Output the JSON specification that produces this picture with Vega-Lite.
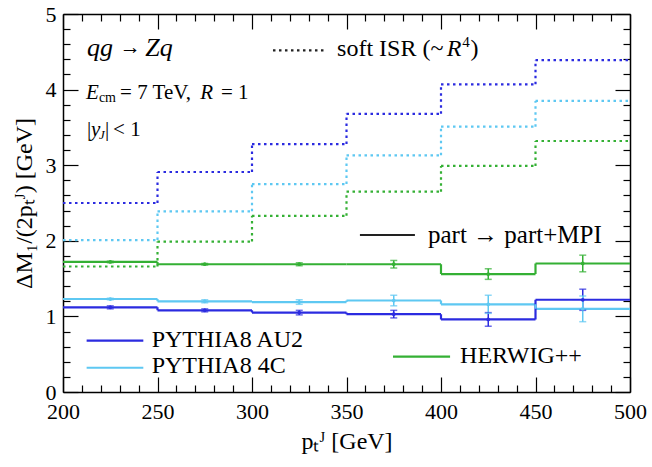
{
  "$schema": "https://vega.github.io/schema/vega-lite/v6.json",
  "width": 567,
  "height": 378,
  "autosize": "none",
  "padding": {"left": 63, "top": 14, "right": 22, "bottom": 75},
  "background": "white",
  "config": {
    "view": {"stroke": null},
    "axis": {
      "labelFont": "Liberation Serif",
      "titleFont": "Liberation Serif",
      "labelColor": "black",
      "titleColor": "black",
      "domainColor": "black",
      "tickColor": "black",
      "grid": false,
      "labelFlush": false,
      "labelOverlap": false
    }
  },
  "datasets": {
    "bins": [
      {"model": "AU2", "kind": "soft", "lo": 200, "hi": 250, "y": 2.50, "prev": null},
      {"model": "AU2", "kind": "soft", "lo": 250, "hi": 300, "y": 2.91, "prev": 2.50},
      {"model": "AU2", "kind": "soft", "lo": 300, "hi": 350, "y": 3.28, "prev": 2.91},
      {"model": "AU2", "kind": "soft", "lo": 350, "hi": 400, "y": 3.68, "prev": 3.28},
      {"model": "AU2", "kind": "soft", "lo": 400, "hi": 450, "y": 4.07, "prev": 3.68},
      {"model": "AU2", "kind": "soft", "lo": 450, "hi": 500, "y": 4.39, "prev": 4.07},
      {"model": "4C", "kind": "soft", "lo": 200, "hi": 250, "y": 2.01, "prev": null},
      {"model": "4C", "kind": "soft", "lo": 250, "hi": 300, "y": 2.39, "prev": 2.01},
      {"model": "4C", "kind": "soft", "lo": 300, "hi": 350, "y": 2.75, "prev": 2.39},
      {"model": "4C", "kind": "soft", "lo": 350, "hi": 400, "y": 3.13, "prev": 2.75},
      {"model": "4C", "kind": "soft", "lo": 400, "hi": 450, "y": 3.51, "prev": 3.13},
      {"model": "4C", "kind": "soft", "lo": 450, "hi": 500, "y": 3.85, "prev": 3.51},
      {"model": "HW", "kind": "soft", "lo": 200, "hi": 250, "y": 1.66, "prev": null},
      {"model": "HW", "kind": "soft", "lo": 250, "hi": 300, "y": 1.99, "prev": 1.66},
      {"model": "HW", "kind": "soft", "lo": 300, "hi": 350, "y": 2.33, "prev": 1.99},
      {"model": "HW", "kind": "soft", "lo": 350, "hi": 400, "y": 2.65, "prev": 2.33},
      {"model": "HW", "kind": "soft", "lo": 400, "hi": 450, "y": 2.99, "prev": 2.65},
      {"model": "HW", "kind": "soft", "lo": 450, "hi": 500, "y": 3.32, "prev": 2.99},
      {"model": "AU2", "kind": "part", "lo": 200, "hi": 250, "y": 1.12, "prev": null},
      {"model": "AU2", "kind": "part", "lo": 250, "hi": 300, "y": 1.08, "prev": 1.12},
      {"model": "AU2", "kind": "part", "lo": 300, "hi": 350, "y": 1.05, "prev": 1.08},
      {"model": "AU2", "kind": "part", "lo": 350, "hi": 400, "y": 1.03, "prev": 1.05},
      {"model": "AU2", "kind": "part", "lo": 400, "hi": 450, "y": 0.96, "prev": 1.03},
      {"model": "AU2", "kind": "part", "lo": 450, "hi": 500, "y": 1.22, "prev": 0.96},
      {"model": "4C", "kind": "part", "lo": 200, "hi": 250, "y": 1.23, "prev": null},
      {"model": "4C", "kind": "part", "lo": 250, "hi": 300, "y": 1.20, "prev": 1.23},
      {"model": "4C", "kind": "part", "lo": 300, "hi": 350, "y": 1.19, "prev": 1.20},
      {"model": "4C", "kind": "part", "lo": 350, "hi": 400, "y": 1.21, "prev": 1.19},
      {"model": "4C", "kind": "part", "lo": 400, "hi": 450, "y": 1.16, "prev": 1.21},
      {"model": "4C", "kind": "part", "lo": 450, "hi": 500, "y": 1.10, "prev": 1.16},
      {"model": "HW", "kind": "part", "lo": 200, "hi": 250, "y": 1.72, "prev": null},
      {"model": "HW", "kind": "part", "lo": 250, "hi": 300, "y": 1.69, "prev": 1.72},
      {"model": "HW", "kind": "part", "lo": 300, "hi": 350, "y": 1.69, "prev": 1.69},
      {"model": "HW", "kind": "part", "lo": 350, "hi": 400, "y": 1.69, "prev": 1.69},
      {"model": "HW", "kind": "part", "lo": 400, "hi": 450, "y": 1.56, "prev": 1.69},
      {"model": "HW", "kind": "part", "lo": 450, "hi": 500, "y": 1.70, "prev": 1.56}
    ],
    "errs": [
      {"model": "AU2", "c": 225, "v": 1.12, "lo": 1.10, "hi": 1.14},
      {"model": "AU2", "c": 275, "v": 1.08, "lo": 1.06, "hi": 1.10},
      {"model": "AU2", "c": 325, "v": 1.05, "lo": 1.02, "hi": 1.08},
      {"model": "AU2", "c": 375, "v": 1.03, "lo": 0.98, "hi": 1.08},
      {"model": "AU2", "c": 425, "v": 0.96, "lo": 0.87, "hi": 1.05},
      {"model": "AU2", "c": 475, "v": 1.22, "lo": 1.08, "hi": 1.36},
      {"model": "4C", "c": 225, "v": 1.23, "lo": 1.22, "hi": 1.24},
      {"model": "4C", "c": 275, "v": 1.20, "lo": 1.18, "hi": 1.22},
      {"model": "4C", "c": 325, "v": 1.19, "lo": 1.16, "hi": 1.22},
      {"model": "4C", "c": 375, "v": 1.21, "lo": 1.14, "hi": 1.28},
      {"model": "4C", "c": 425, "v": 1.16, "lo": 1.04, "hi": 1.28},
      {"model": "4C", "c": 475, "v": 1.10, "lo": 0.93, "hi": 1.27},
      {"model": "HW", "c": 225, "v": 1.72, "lo": 1.71, "hi": 1.73},
      {"model": "HW", "c": 275, "v": 1.69, "lo": 1.68, "hi": 1.70},
      {"model": "HW", "c": 325, "v": 1.69, "lo": 1.67, "hi": 1.71},
      {"model": "HW", "c": 375, "v": 1.69, "lo": 1.64, "hi": 1.74},
      {"model": "HW", "c": 425, "v": 1.56, "lo": 1.49, "hi": 1.63},
      {"model": "HW", "c": 475, "v": 1.70, "lo": 1.59, "hi": 1.81}
    ],
    "keys": [
      {"model": "none", "kind": "soft", "x1": 311.1, "x2": 339.2, "y": 4.52},
      {"model": "none", "kind": "part", "x1": 357.1, "x2": 386.2, "y": 2.077},
      {"model": "AU2", "kind": "part", "x1": 212.5, "x2": 242.5, "y": 0.679},
      {"model": "4C", "kind": "part", "x1": 212.5, "x2": 242.5, "y": 0.321},
      {"model": "HW", "kind": "part", "x1": 374.6, "x2": 404.8, "y": 0.467}
    ],
    "notes": [
      {"role": "title", "text": "qg", "x": 212.7, "y": 4.44},
      {"role": "reg", "text": "→", "x": 230.0, "y": 4.47},
      {"role": "title", "text": "Zq", "x": 243.5, "y": 4.44},
      {"role": "it", "text": "E", "x": 212.2, "y": 3.875},
      {"role": "sub", "text": "cm", "x": 219.0, "y": 3.836},
      {"role": "reg", "text": "= 7 TeV,", "x": 230.2, "y": 3.875},
      {"role": "it", "text": "R", "x": 272.6, "y": 3.875},
      {"role": "reg", "text": "= 1", "x": 283.6, "y": 3.875},
      {"role": "reg", "text": "|", "x": 212.7, "y": 3.386},
      {"role": "it", "text": "y", "x": 214.8, "y": 3.386},
      {"role": "subit", "text": "J", "x": 219.0, "y": 3.347},
      {"role": "reg", "text": "|", "x": 222.2, "y": 3.386},
      {"role": "reg", "text": "< 1", "x": 226.5, "y": 3.386},
      {"role": "key", "text": "soft ISR (~", "x": 345.0, "y": 4.44},
      {"role": "keyit", "text": "R", "x": 403.0, "y": 4.44},
      {"role": "keysup", "text": "4", "x": 411.2, "y": 4.56},
      {"role": "key", "text": ")", "x": 415.6, "y": 4.44},
      {"role": "keyL", "text": "part → part+MPI", "x": 393.1, "y": 1.967},
      {"role": "key", "text": "PYTHIA8 AU2", "x": 246.9, "y": 0.599},
      {"role": "key", "text": "PYTHIA8 4C", "x": 246.9, "y": 0.247},
      {"role": "key", "text": "HERWIG++", "x": 410.1, "y": 0.38}
    ]
  },
  "layer": [
    {
      "data": {"name": "bins"},
      "mark": {"type": "rule", "strokeWidth": 2.2, "strokeCap": "butt"},
      "encoding": {
        "x": {"field": "lo", "type": "quantitative", "scale": {"domain": [200, 500], "nice": false},
          "axis": {"orient": "bottom", "values": [200, 250, 300, 350, 400, 450, 500], "ticks": false, "domainWidth": 1.5, "labelFont": "Liberation Serif", "labelFontSize": 22, "labelPadding": 9, "title": "pₜᴶ   [GeV]", "titleFont": "Liberation Serif", "titleFontSize": 24, "titleFontWeight": "normal", "titlePadding": 7}},
        "x2": {"field": "hi"},
        "y": {"field": "y", "type": "quantitative", "scale": {"domain": [0, 5], "nice": false},
          "axis": {"orient": "left", "values": [0, 1, 2, 3, 4, 5], "ticks": false, "domainWidth": 1.5, "labelFont": "Liberation Serif", "labelFontSize": 22, "labelPadding": 7, "title": "ΔM₁/(2pₜᴶ)   [GeV]", "titleFont": "Liberation Serif", "titleFontSize": 24, "titleFontWeight": "normal", "titlePadding": 9}},
        "color": {"field": "model", "type": "nominal", "scale": {"domain": ["AU2", "4C", "HW", "none"], "range": ["#2b2be0", "#5ec8f2", "#34b034", "#222222"]}, "legend": null},
        "strokeDash": {"field": "kind", "type": "nominal", "scale": {"domain": ["soft", "part"], "range": [[2.5, 3.5], [1, 0]]}, "legend": null}
      }
    },
    {
      "data": {"name": "bins"},
      "transform": [{"filter": "datum.prev != null"}],
      "mark": {"type": "rule", "strokeWidth": 2.2, "strokeCap": "butt"},
      "encoding": {
        "x": {"field": "lo", "type": "quantitative", "scale": {"domain": [200, 500], "nice": false},
          "axis": {"orient": "top", "offset": -378, "values": [200, 250, 300, 350, 400, 450, 500], "tickSize": 15, "tickWidth": 1.2, "domain": false, "labels": false, "title": null}},
        "y": {"field": "prev", "type": "quantitative", "scale": {"domain": [0, 5], "nice": false},
          "axis": {"orient": "right", "offset": -567, "values": [0, 1, 2, 3, 4, 5], "tickSize": 15, "tickWidth": 1.2, "domain": false, "labels": false, "title": null}},
        "y2": {"field": "y"},
        "color": {"field": "model", "type": "nominal", "scale": {"domain": ["AU2", "4C", "HW", "none"], "range": ["#2b2be0", "#5ec8f2", "#34b034", "#222222"]}, "legend": null},
        "strokeDash": {"field": "kind", "type": "nominal", "scale": {"domain": ["soft", "part"], "range": [[2.5, 3.5], [1, 0]]}, "legend": null}
      }
    },
    {
      "data": {"name": "errs"},
      "mark": {"type": "rule", "strokeWidth": 1.5},
      "encoding": {
        "x": {"field": "c", "type": "quantitative", "scale": {"domain": [200, 500], "nice": false},
          "axis": {"orient": "top", "offset": -378, "values": [210, 220, 230, 240, 260, 270, 280, 290, 310, 320, 330, 340, 360, 370, 380, 390, 410, 420, 430, 440, 460, 470, 480, 490], "tickSize": 7, "tickWidth": 1.2, "domain": false, "labels": false, "title": null}},
        "y": {"field": "lo", "type": "quantitative", "scale": {"domain": [0, 5], "nice": false},
          "axis": {"orient": "right", "offset": -567, "values": [0.2, 0.4, 0.6, 0.8, 1.2, 1.4, 1.6, 1.8, 2.2, 2.4, 2.6, 2.8, 3.2, 3.4, 3.6, 3.8, 4.2, 4.4, 4.6, 4.8], "tickSize": 7, "tickWidth": 1.2, "domain": false, "labels": false, "title": null}},
        "y2": {"field": "hi"},
        "color": {"field": "model", "type": "nominal", "scale": {"domain": ["AU2", "4C", "HW", "none"], "range": ["#2b2be0", "#5ec8f2", "#34b034", "#222222"]}, "legend": null}
      }
    },
    {
      "data": {"name": "errs"},
      "transform": [{"fold": ["lo", "hi"], "as": ["end", "val"]}],
      "mark": {"type": "tick", "orient": "horizontal", "size": 7, "thickness": 1.5},
      "encoding": {
        "x": {"field": "c", "type": "quantitative", "scale": {"domain": [200, 500], "nice": false},
          "axis": {"orient": "bottom", "offset": -378, "values": [200, 250, 300, 350, 400, 450, 500], "tickSize": 15, "tickWidth": 1.2, "domainWidth": 1.5, "labels": false, "title": null}},
        "y": {"field": "val", "type": "quantitative", "scale": {"domain": [0, 5], "nice": false},
          "axis": {"orient": "left", "offset": -567, "values": [0, 1, 2, 3, 4, 5], "tickSize": 15, "tickWidth": 1.2, "domainWidth": 1.5, "labels": false, "title": null}},
        "color": {"field": "model", "type": "nominal", "scale": {"domain": ["AU2", "4C", "HW", "none"], "range": ["#2b2be0", "#5ec8f2", "#34b034", "#222222"]}, "legend": null}
      }
    },
    {
      "data": {"name": "errs"},
      "mark": {"type": "point", "filled": true, "size": 14, "opacity": 1},
      "encoding": {
        "x": {"field": "c", "type": "quantitative", "scale": {"domain": [200, 500], "nice": false},
          "axis": {"orient": "bottom", "offset": -378, "values": [210, 220, 230, 240, 260, 270, 280, 290, 310, 320, 330, 340, 360, 370, 380, 390, 410, 420, 430, 440, 460, 470, 480, 490], "tickSize": 7, "tickWidth": 1.2, "domain": false, "labels": false, "title": null}},
        "y": {"field": "v", "type": "quantitative", "scale": {"domain": [0, 5], "nice": false},
          "axis": {"orient": "left", "offset": -567, "values": [0.2, 0.4, 0.6, 0.8, 1.2, 1.4, 1.6, 1.8, 2.2, 2.4, 2.6, 2.8, 3.2, 3.4, 3.6, 3.8, 4.2, 4.4, 4.6, 4.8], "tickSize": 7, "tickWidth": 1.2, "domain": false, "labels": false, "title": null}},
        "color": {"field": "model", "type": "nominal", "scale": {"domain": ["AU2", "4C", "HW", "none"], "range": ["#2b2be0", "#5ec8f2", "#34b034", "#222222"]}, "legend": null}
      }
    },
    {
      "data": {"name": "keys"},
      "mark": {"type": "rule", "strokeWidth": 2.2, "strokeCap": "butt"},
      "encoding": {
        "x": {"field": "x1", "type": "quantitative", "scale": {"domain": [200, 500], "nice": false}, "axis": null},
        "x2": {"field": "x2"},
        "y": {"field": "y", "type": "quantitative", "scale": {"domain": [0, 5], "nice": false}, "axis": null},
        "color": {"field": "model", "type": "nominal", "scale": {"domain": ["AU2", "4C", "HW", "none"], "range": ["#2b2be0", "#5ec8f2", "#34b034", "#222222"]}, "legend": null},
        "strokeDash": {"field": "kind", "type": "nominal", "scale": {"domain": ["soft", "part"], "range": [[2.5, 3.5], [1, 0]]}, "legend": null}
      }
    },
    {
      "data": {"name": "notes"},
      "transform": [{"filter": "datum.role == 'title'"}],
      "mark": {"type": "text", "align": "left", "baseline": "alphabetic", "font": "Liberation Serif", "fontStyle": "italic", "fontSize": 26, "color": "black"},
      "encoding": {
        "x": {"field": "x", "type": "quantitative", "scale": {"domain": [200, 500], "nice": false}, "axis": null},
        "y": {"field": "y", "type": "quantitative", "scale": {"domain": [0, 5], "nice": false}, "axis": null},
        "text": {"field": "text"}
      }
    },
    {
      "data": {"name": "notes"},
      "transform": [{"filter": "datum.role == 'it'"}],
      "mark": {"type": "text", "align": "left", "baseline": "alphabetic", "font": "Liberation Serif", "fontStyle": "italic", "fontSize": 21, "color": "black"},
      "encoding": {
        "x": {"field": "x", "type": "quantitative", "scale": {"domain": [200, 500], "nice": false}, "axis": null},
        "y": {"field": "y", "type": "quantitative", "scale": {"domain": [0, 5], "nice": false}, "axis": null},
        "text": {"field": "text"}
      }
    },
    {
      "data": {"name": "notes"},
      "transform": [{"filter": "datum.role == 'reg'"}],
      "mark": {"type": "text", "align": "left", "baseline": "alphabetic", "font": "Liberation Serif", "fontSize": 21, "color": "black"},
      "encoding": {
        "x": {"field": "x", "type": "quantitative", "scale": {"domain": [200, 500], "nice": false}, "axis": null},
        "y": {"field": "y", "type": "quantitative", "scale": {"domain": [0, 5], "nice": false}, "axis": null},
        "text": {"field": "text"}
      }
    },
    {
      "data": {"name": "notes"},
      "transform": [{"filter": "datum.role == 'sub'"}],
      "mark": {"type": "text", "align": "left", "baseline": "alphabetic", "font": "Liberation Serif", "fontSize": 14, "color": "black"},
      "encoding": {
        "x": {"field": "x", "type": "quantitative", "scale": {"domain": [200, 500], "nice": false}, "axis": null},
        "y": {"field": "y", "type": "quantitative", "scale": {"domain": [0, 5], "nice": false}, "axis": null},
        "text": {"field": "text"}
      }
    },
    {
      "data": {"name": "notes"},
      "transform": [{"filter": "datum.role == 'subit'"}],
      "mark": {"type": "text", "align": "left", "baseline": "alphabetic", "font": "Liberation Serif", "fontStyle": "italic", "fontSize": 13, "color": "black"},
      "encoding": {
        "x": {"field": "x", "type": "quantitative", "scale": {"domain": [200, 500], "nice": false}, "axis": null},
        "y": {"field": "y", "type": "quantitative", "scale": {"domain": [0, 5], "nice": false}, "axis": null},
        "text": {"field": "text"}
      }
    },
    {
      "data": {"name": "notes"},
      "transform": [{"filter": "datum.role == 'key'"}],
      "mark": {"type": "text", "align": "left", "baseline": "alphabetic", "font": "Liberation Serif", "fontSize": 24, "color": "black"},
      "encoding": {
        "x": {"field": "x", "type": "quantitative", "scale": {"domain": [200, 500], "nice": false}, "axis": null},
        "y": {"field": "y", "type": "quantitative", "scale": {"domain": [0, 5], "nice": false}, "axis": null},
        "text": {"field": "text"}
      }
    },
    {
      "data": {"name": "notes"},
      "transform": [{"filter": "datum.role == 'keyL'"}],
      "mark": {"type": "text", "align": "left", "baseline": "alphabetic", "font": "Liberation Serif", "fontSize": 25, "color": "black"},
      "encoding": {
        "x": {"field": "x", "type": "quantitative", "scale": {"domain": [200, 500], "nice": false}, "axis": null},
        "y": {"field": "y", "type": "quantitative", "scale": {"domain": [0, 5], "nice": false}, "axis": null},
        "text": {"field": "text"}
      }
    },
    {
      "data": {"name": "notes"},
      "transform": [{"filter": "datum.role == 'keyit'"}],
      "mark": {"type": "text", "align": "left", "baseline": "alphabetic", "font": "Liberation Serif", "fontStyle": "italic", "fontSize": 24, "color": "black"},
      "encoding": {
        "x": {"field": "x", "type": "quantitative", "scale": {"domain": [200, 500], "nice": false}, "axis": null},
        "y": {"field": "y", "type": "quantitative", "scale": {"domain": [0, 5], "nice": false}, "axis": null},
        "text": {"field": "text"}
      }
    },
    {
      "data": {"name": "notes"},
      "transform": [{"filter": "datum.role == 'keysup'"}],
      "mark": {"type": "text", "align": "left", "baseline": "alphabetic", "font": "Liberation Serif", "fontSize": 15, "color": "black"},
      "encoding": {
        "x": {"field": "x", "type": "quantitative", "scale": {"domain": [200, 500], "nice": false}, "axis": null},
        "y": {"field": "y", "type": "quantitative", "scale": {"domain": [0, 5], "nice": false}, "axis": null},
        "text": {"field": "text"}
      }
    }
  ],
  "resolve": {"axis": {"x": "independent", "y": "independent"}}
}
